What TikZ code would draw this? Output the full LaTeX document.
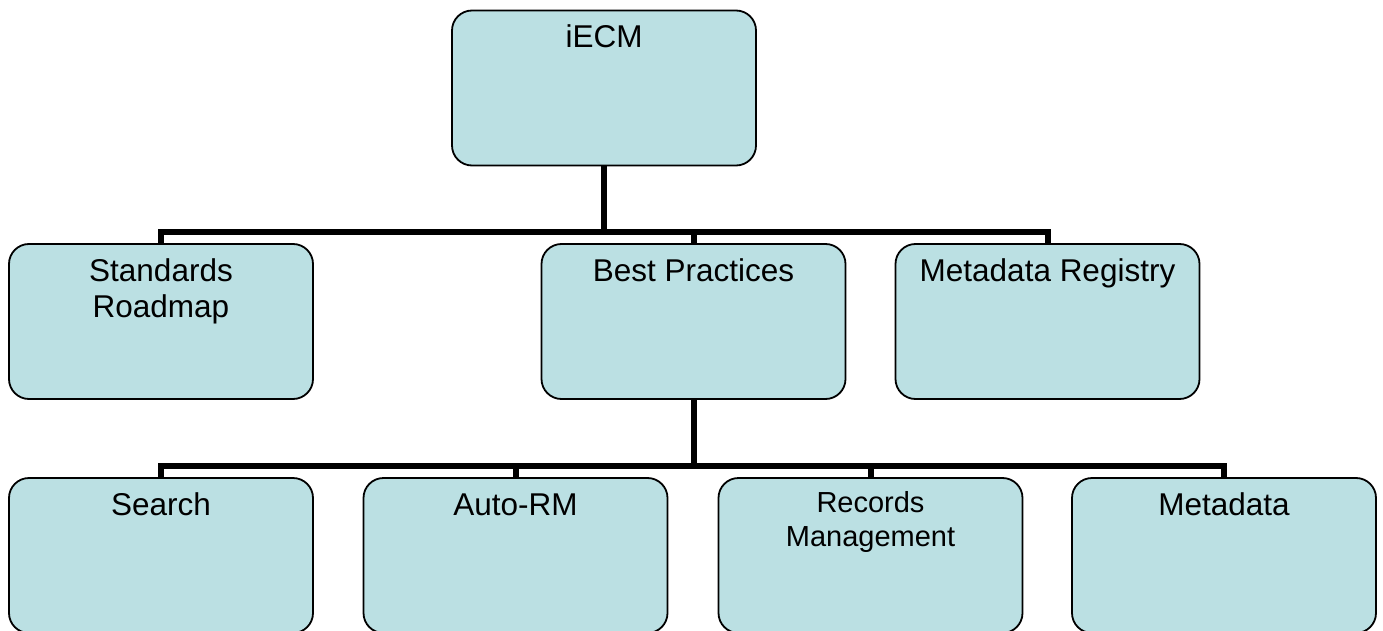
\documentclass[tikz,border=0pt]{standalone}
\usepackage{fontspec}
\setmainfont{Liberation Sans}
\usetikzlibrary{positioning}
\definecolor{boxfill}{RGB}{187,224,227}

\begin{document}
\begin{tikzpicture}
  [x=1pt,y=-1pt,
   box/.style={draw,line width=1.8pt,rounded corners=20pt,fill=boxfill,
     minimum width=304pt,minimum height=155pt,inner sep=0pt},
   txt/.style={inner sep=0pt,text height=22pt,align=center,
     font=\fontsize{31.5}{36}\selectfont},
   conn/.style={line width=6pt}]
  \useasboundingbox (0,0) rectangle (1383,631);

  \node[box] (iecm) at (604,88) {};
  \node[box] (std) at (161,321.5) {};
  \node[box] (best) at (693.5,321.5) {};
  \node[box] (reg) at (1047.5,321.5) {};
  \node[box] (search) at (161,555.5) {};
  \node[box] (auto) at (515.5,555.5) {};
  \node[box] (rec) at (870.5,555.5) {};
  \node[box] (meta) at (1224,555.5) {};

  \node[txt,below=16pt of iecm.north] (t1) {iECM};
  \node[txt,below=16pt of std.north,text height=58pt] (t2) {Standards\\Roadmap};
  \node[txt,below=16pt of best.north] (t3) {Best Practices};
  \node[txt,below=16pt of reg.north] (t4) {Metadata Registry};
  \node[txt,below=16pt of search.north] (t5) {Search};
  \node[txt,below=16pt of auto.north] (t6) {Auto-RM};
  \node[txt,below=14pt of rec.north,text height=55pt,
        font=\fontsize{29}{34}\selectfont] (t7) {Records\\Management};
  \node[txt,below=16pt of meta.north] (t8) {Metadata};

  \coordinate (bus1) at (604,232);
  \coordinate (bus2) at (693.5,465.5);
  \foreach \n in {std,best,reg}
    \draw[conn] (iecm.south) -- (bus1) -| (\n.north);
  \foreach \n in {search,auto,rec,meta}
    \draw[conn] (best.south) -- (bus2) -| (\n.north);

\end{tikzpicture}
\end{document}
